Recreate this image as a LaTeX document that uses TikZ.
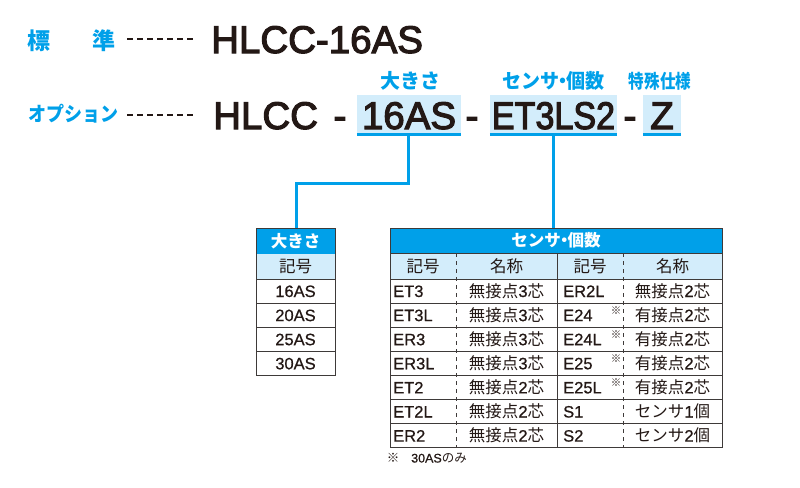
\documentclass[tikz,border=0pt]{standalone}
\usepackage{fontspec}
\setmainfont{Liberation Sans}
\newfontfamily\codefont[FakeBold=3]{Liberation Sans}
\newfontfamily\cellfont[FakeBold=0.7]{Liberation Sans}
\newfontfamily\J{Noto Sans CJK JP}
\definecolor{cblue}{HTML}{00A0E9}
\definecolor{clight}{HTML}{D3EDFB}
\definecolor{ctext}{HTML}{231815}
\definecolor{cgrid}{HTML}{3E3A39}
\newcommand{\ndot}{\kern-0.3em・\kern-0.3em}
\begin{document}
\begin{tikzpicture}[x=1pt,y=-1pt,
  bluelab/.style={text=cblue, inner sep=0, font={\J\bfseries\fontsize{20}{20}\selectfont}},
  code/.style={text=ctext, inner sep=0, font={\codefont\fontsize{38.5}{40}\selectfont}},
  hlbox/.style={fill=clight, draw=none, inner sep=0},
  uline/.style={draw=cblue, line width=3pt},
  conn/.style={draw=cblue, line width=3pt},
  leader/.style={draw=ctext, line width=1.2pt, dash pattern=on 6pt off 4pt},
  cell/.style={text=ctext, inner sep=0, font={\cellfont\fontsize{16.5}{18}\selectfont}},
  hcell/.style={text=white, inner sep=0, font={\J\bfseries\fontsize{16.5}{18}\selectfont}},
  gridl/.style={draw=cgrid, line width=1pt},
  dgrid/.style={draw=cgrid, line width=1pt, dash pattern=on 4pt off 4pt},
  star/.style={text=ctext, inner sep=0, font={\J\fontsize{10.5}{10.5}\selectfont}},
  foot/.style={text=ctext, inner sep=0, font={\cellfont\fontsize{12.5}{14}\selectfont}}
]
\useasboundingbox (0,0) rectangle (800,487);

% ---- line 1
\node[bluelab, font={\J\bfseries\fontsize{23}{23}\selectfont}] (hyo) at (39,41) {標};
\node[bluelab, font={\J\bfseries\fontsize{23}{23}\selectfont}] (jun) at (104,41) {準};
\coordinate (l1a) at (127,39); \coordinate (l1b) at (195,39);
\draw[leader] (l1a) -- (l1b);
\node[code, anchor=base west] (std) at (211,53) {HLCC-16AS};

% ---- line 2
\node[bluelab] (opt) at (73,114) {\scalebox{0.9}[1]{オプション}};
\coordinate (l2a) at (127,115); \coordinate (l2b) at (195,115);
\draw[leader] (l2a) -- (l2b);
\node[code, anchor=base west] (hlcc) at (213,129) {HLCC};
\node[code, anchor=base] (d1) at (340,129) {-};
\node[code, anchor=base] (d2) at (472,129) {-};
\node[code, anchor=base] (d3) at (630,129) {-};

\node[hlbox, minimum width=104pt, minimum height=39pt] (b16) at (409,114.5) {};
\node[hlbox, minimum width=127pt, minimum height=39pt] (bet) at (553.5,114.5) {};
\node[hlbox, minimum width=38pt, minimum height=39pt] (bz) at (662,114.5) {};
\draw[uline] (b16.south west) -- (b16.south east);
\draw[uline] (bet.south west) -- (bet.south east);
\draw[uline] (bz.south west) -- (bz.south east);
\node[code, anchor=base] (t16) at (409,129) {16AS};
\node[code, anchor=base] (tet) at (553.5,129) {\scalebox{0.885}[1]{ET3LS2}};
\node[code, anchor=base] (tz) at (662,129) {Z};

\node[bluelab] (lsize) at (410,81) {大きさ};
\node[bluelab] (lsens) at (553.5,81) {\scalebox{0.95}[1]{センサ\ndot 個数}};
\node[bluelab, font={\J\bfseries\fontsize{19}{19}\selectfont}] (lspec) at (660,81) {\scalebox{0.82}[1]{特殊仕様}};

% ---- connectors
\coordinate (c1) at (408,183);
\coordinate (c2) at (296,183);
\coordinate (tab1top) at (296,228);
\coordinate (tab2top) at (553,228);
\draw[conn] (b16.south -| c1) -- (c1) -- (c2) -- (tab1top);
\draw[conn] (bet.south -| tab2top) -- (tab2top);

% ---- table 1
\fill[cblue] (256,228) rectangle (335,254);
\fill[clight] (256,254) rectangle (335,279);
\foreach \k in {0,...,4} { \draw[gridl] (256,{279+\k*24.1}) -- (335,{279+\k*24.1}); }
\draw[gridl] (256,228) rectangle (335,{279+4*24.1});
\node[hcell, anchor=base] (h1) at (295.5,247) {大きさ};
\node[cell, anchor=base] (k1) at (295.5,272.5) {\J 記号};
\foreach \t [count=\i from 0] in {16AS,20AS,25AS,30AS} {
  \node[cell, anchor=base] (s\i) at (295.5,{279+\i*24.1+18}) {\t};
}

% ---- table 2
\fill[cblue] (390,228) rectangle (722,253);
\fill[clight] (390,253) rectangle (722,279);
\foreach \k in {0,...,7} { \draw[gridl] (390,{279+\k*24.1}) -- (722,{279+\k*24.1}); }
\draw[gridl] (390,253) -- (722,253);
\draw[gridl] (557,253) -- (557,{279+7*24.1});
\draw[dgrid] (456,253) -- (456,{279+7*24.1});
\draw[dgrid] (623,253) -- (623,{279+7*24.1});
\draw[gridl] (390,228) rectangle (722,{279+7*24.1});
\node[hcell, anchor=base] (h2) at (556,246.5) {センサ\ndot 個数};
\node[cell, anchor=base] (k2a) at (423,272.5) {\J 記号};
\node[cell, anchor=base] (k2b) at (506.5,272.5) {\J 名称};
\node[cell, anchor=base] (k2c) at (590,272.5) {\J 記号};
\node[cell, anchor=base] (k2d) at (672.5,272.5) {\J 名称};
\foreach \ca/\pa/\na/\sa/\cb/\pb/\nb/\sb/\st [count=\i from 0] in {
  ET3/無接点/3/芯/ER2L/無接点/2/芯/0,
  ET3L/無接点/3/芯/E24/有接点/2/芯/1,
  ER3/無接点/3/芯/E24L/有接点/2/芯/1,
  ER3L/無接点/3/芯/E25/有接点/2/芯/1,
  ET2/無接点/2/芯/E25L/有接点/2/芯/1,
  ET2L/無接点/2/芯/S1/センサ/1/個/0,
  ER2/無接点/2/芯/S2/センサ/2/個/0} {
  \node[cell, anchor=base west] (ra\i) at (393,{279+\i*24.1+18}) {\ca};
  \node[cell, anchor=base] (rb\i) at (506.5,{279+\i*24.1+18}) {{\J\pa}\na{\J\sa}};
  \node[cell, anchor=base west] (rc\i) at (563,{279+\i*24.1+18}) {\cb};
  \node[cell, anchor=base] (rd\i) at (672.5,{279+\i*24.1+18}) {{\J\pb}\nb{\J\sb}};
  \ifnum\st=1 \node[star] (rs\i) at (616,{279+\i*24.1+7.5}) {※}; \fi
}
\node[foot, anchor=center] (fs) at (393,458) {\J ※};
\node[foot, anchor=base west] (ft) at (411,462.5) {30AS{\J のみ}};
\end{tikzpicture}
\end{document}
